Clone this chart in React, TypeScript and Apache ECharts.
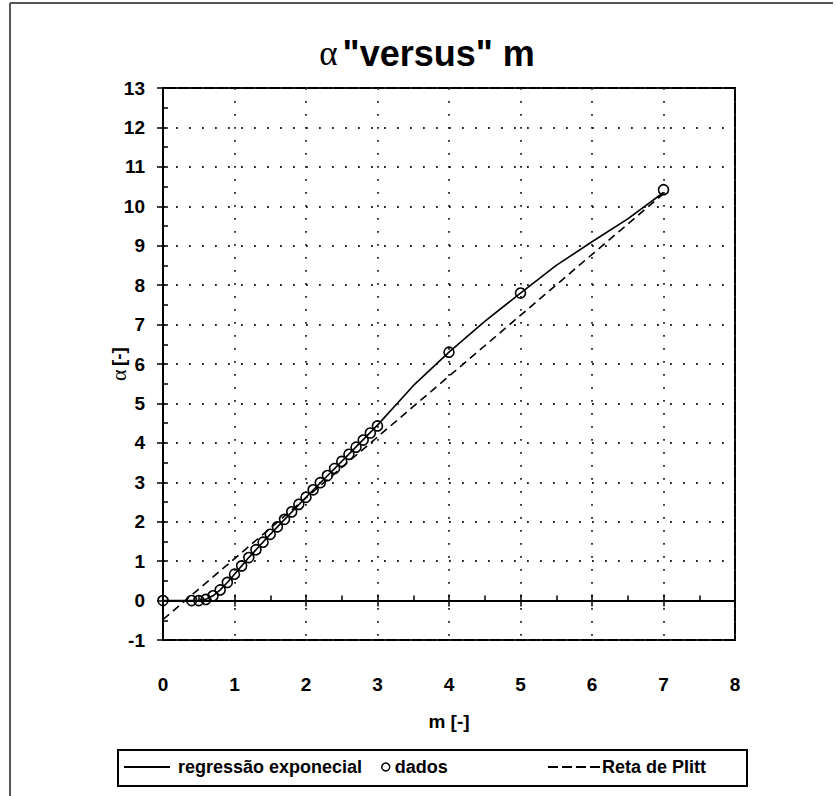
import React, { useEffect, useRef } from "react";
import * as echarts from "echarts";

// Experimental data ("dados")
const dadosM = [0, 0.4, 0.5, 0.6, 0.7, 0.8, 0.9, 1.0, 1.1, 1.2, 1.3, 1.4, 1.5, 1.6, 1.7, 1.8, 1.9, 2.0, 2.1, 2.2, 2.3, 2.4, 2.5, 2.6, 2.7, 2.8, 2.9, 3.0, 4, 5, 7];
const dadosA = [0, 0, 0, 0.03, 0.12, 0.27, 0.46, 0.67, 0.88, 1.09, 1.29, 1.48, 1.68, 1.87, 2.06, 2.25, 2.44, 2.62, 2.81, 2.99, 3.17, 3.35, 3.53, 3.71, 3.89, 4.07, 4.25, 4.43, 6.3, 7.8, 10.42];

// Exponential regression curve
const regM = [0, 0.5, 0.6, 0.7, 0.8, 0.9, 1.0, 1.1, 1.2, 1.5, 2.0, 2.5, 3.0, 3.5, 4.0, 4.5, 5.0, 5.5, 6.0, 6.5, 7.0];
const regA = [0, 0, 0.03, 0.12, 0.27, 0.46, 0.67, 0.88, 1.09, 1.68, 2.62, 3.53, 4.45, 5.45, 6.3, 7.08, 7.8, 8.5, 9.1, 9.68, 10.35];

// Plitt straight line
const plittM = [0, 7];
const plittA = [-0.48, 10.32];

const xMin = 0, xMax = 8, yMin = -1, yMax = 13;

const names = ["regressão exponecial", "dados", "Reta de Plitt"];

export default function App() {
  const ref = useRef<HTMLDivElement>(null);
  useEffect(() => {
    const chart = echarts.init(ref.current!, null, { renderer: "svg" });
    const font = "'Liberation Sans', Arial, sans-serif";
    const serif = "'Liberation Serif', 'DejaVu Serif', serif";
    const lbl = { fontFamily: font, fontWeight: "bold" as const, fontSize: 19, color: "#000" };
    const legTxt = { fontFamily: font, fontWeight: "bold" as const, fontSize: 18, color: "#000" };
    const dotted = { show: true, lineStyle: { color: "#222", width: 1.8, type: [1.8, 11.2] } };
    const tickStyle = { color: "#000", width: 1.5 };
    const zip = (a: number[], b: number[]) => a.map((v, i) => [v, b[i]]);

    const option: any = {
      animation: false,
      backgroundColor: "#fff",
      title: {
        text: "{a|α} {b|\"versus\" m}",
        left: 427,
        top: 35,
        textAlign: "center",
        padding: 0,
        textStyle: {
          rich: {
            a: { fontFamily: serif, fontSize: 35, fontWeight: "normal", color: "#000" },
            b: { fontFamily: font, fontSize: 36, fontWeight: "bold", color: "#000" },
          },
        },
      },
      grid: { left: 163, top: 88, width: 572, height: 552, show: true, borderColor: "#000", borderWidth: 2, containLabel: false },
      xAxis: [
        {
          type: "value", min: xMin, max: xMax, interval: 1, position: "bottom",
          axisLine: { show: false, onZero: false },
          axisTick: { show: false },
          axisLabel: { ...lbl, margin: 35 },
          splitLine: dotted,
          name: "m [-]", nameLocation: "middle", nameGap: 72,
          nameTextStyle: lbl,
        },
        {
          type: "value", min: xMin, max: xMax, interval: 1, position: "bottom",
          axisLine: { show: true, onZero: true, onZeroAxisIndex: 0, lineStyle: { color: "#000", width: 2 } },
          axisTick: { show: true, length: 6, lineStyle: tickStyle },
          axisLabel: { show: false },
          splitLine: { show: false },
        },
        {
          type: "value", min: xMin, max: xMax, interval: 1, position: "bottom",
          axisLine: { show: false, onZero: true, onZeroAxisIndex: 0 },
          axisTick: { show: true, inside: true, length: 6, lineStyle: tickStyle },
          minorTick: { show: true, splitNumber: 2, length: 5, lineStyle: tickStyle },
          axisLabel: { show: false },
          splitLine: { show: false },
        },
      ],
      yAxis: [
        {
          type: "value", min: yMin, max: yMax, interval: 1, position: "left",
          axisLine: { show: true, onZero: false, lineStyle: { color: "#000", width: 2 } },
          axisTick: { show: true, length: 6, lineStyle: tickStyle },
          axisLabel: { ...lbl, margin: 18 },
          splitLine: dotted,
          name: "{a|α} {b|[-]}", nameLocation: "middle", nameGap: 34, nameRotate: 90,
          nameMoveOverlap: false,
          nameTextStyle: {
            rich: {
              a: { fontFamily: serif, fontSize: 22, fontWeight: "normal", color: "#000" },
              b: { ...lbl },
            },
          },
        },
        {
          type: "value", min: yMin, max: yMax, interval: 1, position: "left",
          axisLine: { show: false, onZero: false },
          axisTick: { show: true, inside: true, length: 5, lineStyle: tickStyle },
          minorTick: { show: true, splitNumber: 2, length: 5, lineStyle: tickStyle },
          axisLabel: { show: false },
          splitLine: { show: false },
        },
      ],
      legend: [
        {
          data: [{ name: names[0], icon: "path://M0,0H46V2H0Z" }], left: 124, top: 758, padding: 0,
          itemWidth: 46, itemHeight: 2, itemStyle: { color: "#000" },
          textStyle: { ...legTxt, padding: [0, 0, 0, 3] },
        },
        {
          data: [{ name: names[1], icon: "circle" }], left: 381, top: 758, padding: 0, itemWidth: 8, itemHeight: 8,
          itemStyle: { color: "transparent", borderColor: "#000", borderWidth: 1.5 },
          textStyle: { ...legTxt },
        },
        {
          data: [{ name: names[2], icon: "path://M0,0h10v2h-10zM14,0h10v2h-10zM28,0h10v2h-10zM42,0h10v2h-10z" }],
          left: 548, top: 758, padding: 0, itemWidth: 52, itemHeight: 2, itemStyle: { color: "#000" },
          textStyle: { ...legTxt, padding: [0, 0, 0, -3] },
        },
      ],
      graphic: [
        { type: "rect", shape: { x: 118, y: 750, width: 629, height: 36 }, style: { fill: "none", stroke: "#000", lineWidth: 2 }, silent: true },
        { type: "line", shape: { x1: 10, y1: 3, x2: 833, y2: 3 }, style: { stroke: "#555", lineWidth: 2 }, silent: true },
        { type: "line", shape: { x1: 10, y1: 3, x2: 10, y2: 796 }, style: { stroke: "#555", lineWidth: 2 }, silent: true },
      ],
      series: [
        {
          name: names[0], type: "line", xAxisIndex: 0, yAxisIndex: 0,
          data: zip(regM, regA), symbol: "none", smooth: false,
          lineStyle: { color: "#000", width: 1.6 }, itemStyle: { color: "#000" },
          z: 3,
        },
        {
          name: names[1], type: "scatter", xAxisIndex: 0, yAxisIndex: 0,
          data: zip(dadosM, dadosA), symbol: "circle", symbolSize: 10,
          itemStyle: { color: "transparent", borderColor: "#000", borderWidth: 1.6, opacity: 1 },
          z: 4,
        },
        {
          name: names[2], type: "line", xAxisIndex: 0, yAxisIndex: 0,
          data: zip(plittM, plittA), symbol: "none",
          lineStyle: { color: "#000", width: 1.6, type: [8, 5] }, itemStyle: { color: "#000" },
          z: 3,
        },
      ],
    };
    chart.setOption(option);
    return () => chart.dispose();
  }, []);
  return <div ref={ref} style={{ position: "fixed", left: 0, top: 0, width: 837, height: 796 }} />;
}
